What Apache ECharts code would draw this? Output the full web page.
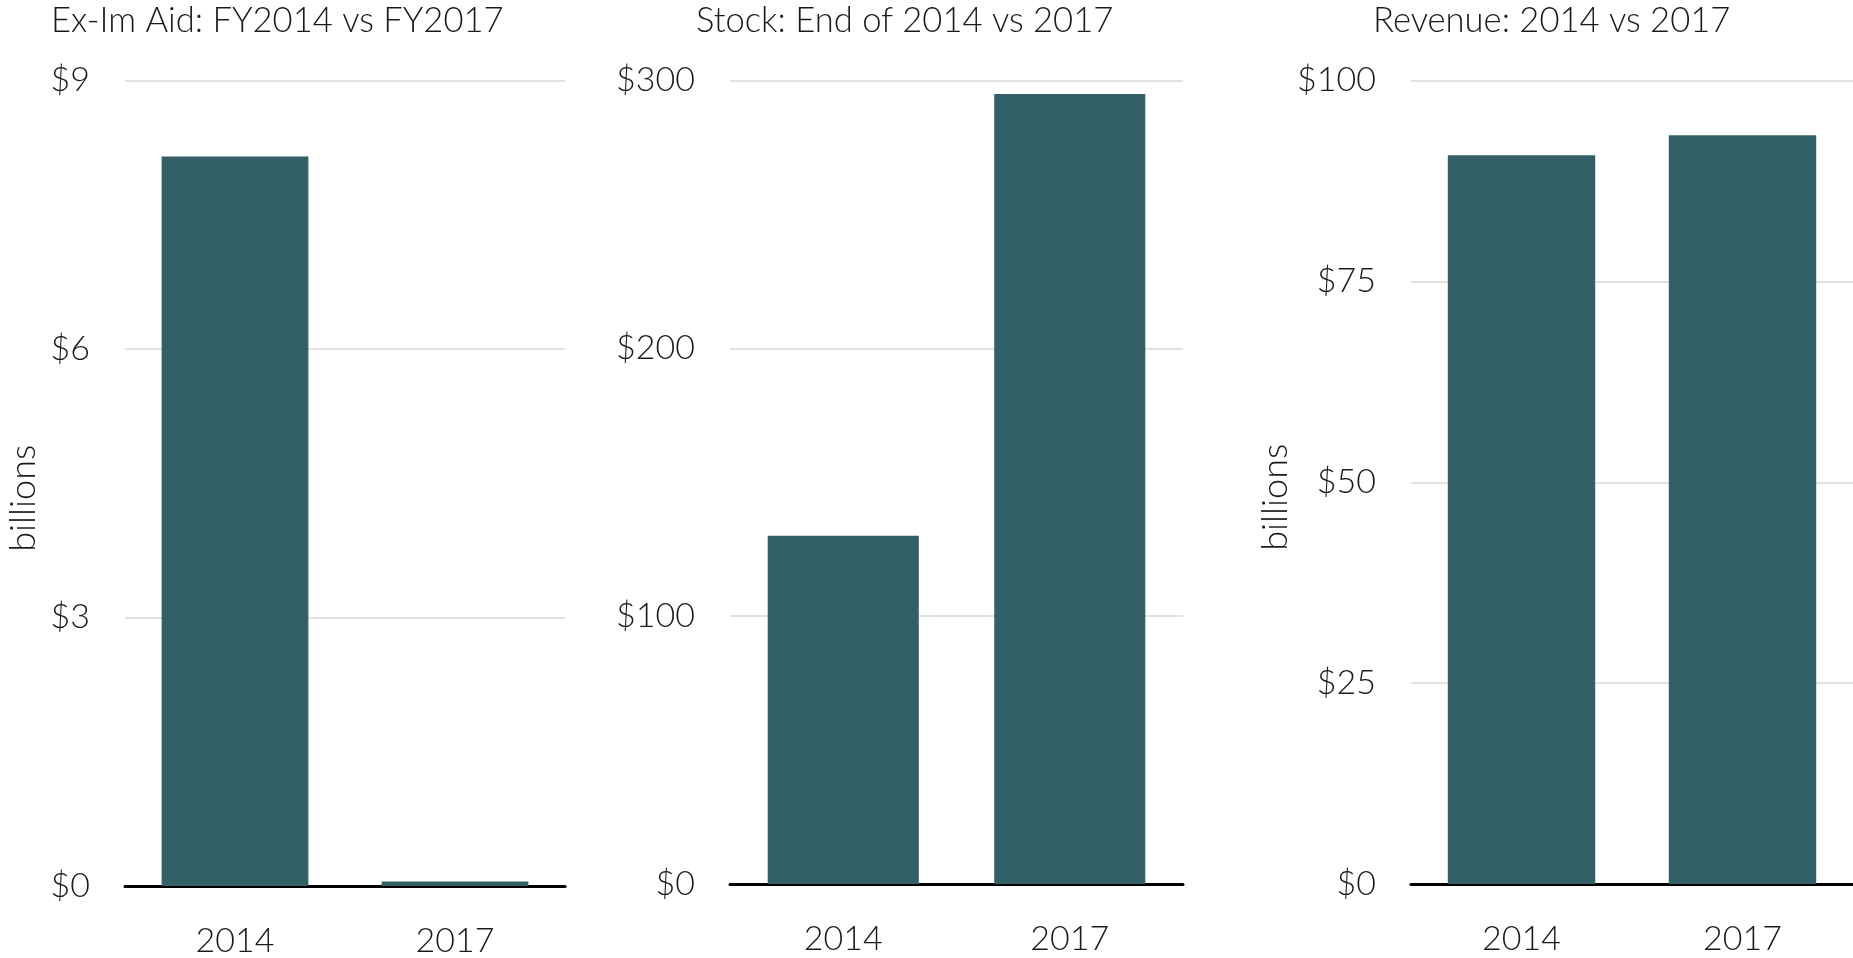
<!DOCTYPE html>
<html>
<head>
<meta charset="utf-8">
<script src="https://cdn.jsdelivr.net/npm/echarts@6/dist/echarts.min.js"></script>
<style>
  html, body { margin: 0; padding: 0; background: #fff; }
  #chart { width: 1853px; height: 958px; }
</style>
</head>
<body>
<div id="chart"></div>
<script>
// data
const years = ['2014', '2017']
const exImAid = [8.15, 0.05]
const stock = [130, 295]
const revenue = [90.7, 93.2]
const titles = ['Ex-Im Aid: FY2014 vs FY2017', 'Stock: End of 2014 vs 2017', 'Revenue: 2014 vs 2017']

const FONT = 'Lato'
const BAR = '#336066'
const TXT = '#1a1a1a'

const myChart = echarts.init(document.getElementById('chart'))

function yAxisOf(idx, max, interval, name, gap) {
  return {
    gridIndex: idx,
    type: 'value',
    min: 0,
    max: max,
    interval: interval,
    name: name,
    nameLocation: 'middle',
    nameRotate: 90,
    nameGap: gap,
    nameTextStyle: {
      fontFamily: FONT, fontWeight: 300, fontSize: 36, color: TXT,
      padding: [0, 30, 0, 0]
    },
    axisLine: { show: false },
    axisTick: { show: false },
    axisLabel: {
      margin: 35,
      fontFamily: FONT,
      fontWeight: 300,
      fontSize: 34,
      color: TXT,
      formatter: '${value}'
    },
    splitLine: {
      show: true,
      lineStyle: { color: '#d9d9d9', width: 1.5 }
    }
  }
}

function xAxisOf(idx) {
  return {
    gridIndex: idx,
    type: 'category',
    data: years,
    axisLine: { show: true, lineStyle: { color: '#000', width: 3 } },
    axisTick: { show: false },
    axisLabel: {
      margin: 38,
      fontFamily: FONT,
      fontWeight: 300,
      fontSize: 34,
      color: TXT
    }
  }
}

function barOf(idx, data) {
  return {
    type: 'bar',
    xAxisIndex: idx,
    yAxisIndex: idx,
    barCategoryGap: '33.3%',
    itemStyle: { color: BAR },
    silent: true,
    data: data
  }
}

const titleStyle = { fontFamily: FONT, fontWeight: 300, fontSize: 34.6, color: TXT }

var option = {
  animation: false,
  title: [
    { text: titles[0], left: 46, top: -2, textStyle: titleStyle },
    { text: titles[1], left: 691, top: -2, textStyle: titleStyle },
    { text: titles[2], left: 1368, top: -2, textStyle: titleStyle }
  ],
  grid: [
    { left: 125, top: 80.5, width: 440, height: 813 },
    { left: 730, top: 80.5, width: 453, height: 803.5 },
    { left: 1411, top: 80.5, width: 442, height: 803.5 }
  ],
  xAxis: [xAxisOf(0), xAxisOf(1), xAxisOf(2)],
  yAxis: [
    yAxisOf(0, 9, 3, 'billions', 84),
    yAxisOf(1, 300, 100, '', 0),
    yAxisOf(2, 100, 25, 'billions', 113)
  ],
  series: [barOf(0, exImAid), barOf(1, stock), barOf(2, revenue)]
}

option && myChart.setOption(option)
</script>
</body>
</html>
